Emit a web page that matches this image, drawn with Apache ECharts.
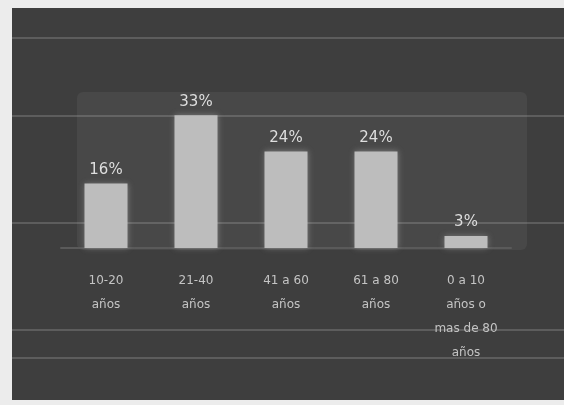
<!DOCTYPE html>
<html><head><meta charset="utf-8">
<script src="https://cdn.jsdelivr.net/npm/echarts@6/dist/echarts.min.js"></script>
<style>html,body{margin:0;padding:0;background:#ececec;}#c{width:564px;height:405px;}</style>
</head><body><div id="c"></div>
<script>
const categories = ["10-20\naños", "21-40\naños", "41 a 60\naños", "61 a 80\naños", "0 a 10\naños o\nmas de 80\naños"];
const values = [16, 33, 24, 24, 3];
const yTicks = [0, 10, 20, 30, 40];

const chart = echarts.init(document.getElementById('c'));
const scanLines = [38, 116, 223, 330, 358].map(y => ({
  type: 'line', silent: true, z: -5,
  shape: {x1: 12, y1: y, x2: 564, y2: y},
  style: {stroke: 'rgba(200,200,200,0.45)', lineWidth: 1}
}));
chart.setOption({
  backgroundColor: 'transparent',
  animation: false,
  graphic: [
    {type: 'rect', z: -10, silent: true, shape: {x: 12, y: 8, width: 552, height: 392}, style: {fill: '#3e3e3e'}},
    {type: 'rect', z: -9, silent: true, shape: {x: 77, y: 92, width: 450, height: 158, r: 6}, style: {fill: '#484848'}}
  ].concat(scanLines),
  grid: {left: 61, right: 53, top: 87, bottom: 157},
  xAxis: {
    type: 'category', data: categories,
    axisLine: {show: true, lineStyle: {color: '#5a5a5a', width: 2}},
    axisTick: {show: false},
    axisLabel: {color: '#c4c4c4', fontSize: 12, fontFamily: 'DejaVu Sans', lineHeight: 24, margin: 21, interval: 0}
  },
  yAxis: {
    type: 'value', min: yTicks[0], max: yTicks[yTicks.length - 1], interval: 10,
    show: false, splitLine: {show: false}
  },
  series: [{
    type: 'bar', data: values, barWidth: 43,
    itemStyle: {color: '#bdbdbd', shadowColor: 'rgba(220,220,220,0.35)', shadowBlur: 6},
    label: {show: true, position: 'top', distance: 6, formatter: p => p.value + '%',
      color: '#dedede', fontSize: 15, fontFamily: 'DejaVu Sans'}
  }]
});
</script></body></html>
